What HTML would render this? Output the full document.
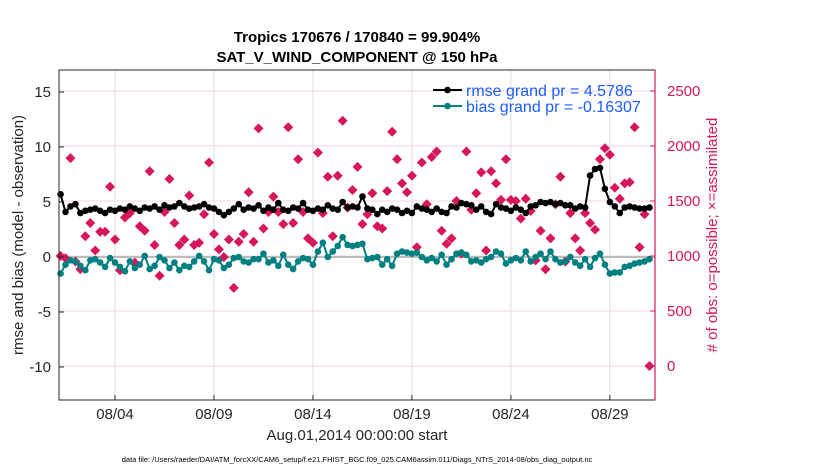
<!DOCTYPE html>
<html><head><meta charset="utf-8"><style>
body{margin:0;background:#fff;}
svg{font-family:"Liberation Sans",sans-serif;}
</style></head><body>
<svg id="chart" width="830" height="470" xmlns="http://www.w3.org/2000/svg"></svg>
<script>
const rmse=[5.7,4.1,4.6,4.8, 4.0,4.2,4.3,4.4, 4.2,4.0,4.3,4.2, 4.4,4.3,4.6,4.4, 4.2,4.5,4.4,4.6, 4.3,4.7,4.5,4.6, 4.9,4.6,4.4,4.5, 4.6,4.8,4.5,4.4, 4.1,3.8,4.1,4.4, 4.8,4.3,4.5,4.4, 4.7,4.2,4.5,4.3, 4.9,4.3,4.2,4.5, 4.4,4.9,4.3,4.2, 4.4,4.3,4.7,4.4, 4.3,5.0,4.5,4.6, 4.5,5.5,4.4,4.3, 3.9,4.3,4.1,4.4, 4.3,4.0,4.2,4.0, 4.6,4.4,4.3,4.1, 4.4,4.1,4.0,4.6, 4.5,4.9,4.8,4.7, 4.3,4.6,4.1,3.9, 4.8,4.5,4.4,4.2, 4.5,4.3,4.0,4.6, 4.7,5.0,4.9,5.0, 4.8,4.9,4.7,4.7, 4.4,4.6,4.5,7.4, 8.0,8.1,6.2,5.0, 4.6,4.0,4.5,4.6, 4.5,4.4,4.4,4.5];
const bias=[-1.5,-0.7,-0.3,-0.4, -0.8,-1.2,-0.3,-0.2, -0.5,-0.9,-0.1,-0.5, -0.9,-1.3,-0.4,-1.0, -0.7,0.1,-1.1,-0.8, 0.0,-0.3,-1.0,-0.5, -1.2,-0.8,-0.9,-0.4, 0.1,-0.4,-1.2,-0.2, -0.3,-1.0,-0.7,-0.1, 0.0,-0.4,-0.5,-0.2, -0.2,0.3,-0.5,-0.3, -0.8,0.2,-0.7,-1.1, -0.4,-0.1,-0.2,-0.7, 0.5,1.3,0.0,0.5, 1.0,1.8,1.1,1.0, 1.1,1.2,-0.2,-0.1, 0.0,-0.7,-0.2,-0.8, 0.3,0.5,0.4,0.3, 0.4,0.0,-0.3,-0.1, -0.4,0.2,-0.7,-0.2, 0.3,0.4,0.2,-0.4, -0.3,-0.5,-0.2,0.0, 0.5,0.3,-0.6,-0.3, -0.1,-0.3,0.5,-0.4, 0.0,0.3,-0.2,0.5, -0.2,-0.5,-0.4,0.0, -0.5,-0.8,-0.2,-0.9, -0.1,0.3,-0.7,-1.5, -1.4,-1.4,-0.9,-0.8, -0.6,-0.5,-0.4,-0.2];
const obs=[1000,980,1890,950, 880,1180,1300,1050, 1220,1220,1630,1150, 870,1350,1390,940, 1270,1230,1770,1100, 820,1400,1700,1300, 1100,1150,1550,1100, 1120,1380,1850,1200, 1060,990,1150,710, 1130,1200,1580,1130, 2160,1250,1400,1540, 1400,1290,2170,1300, 1880,1400,1160,1120, 1940,1390,1720,1180, 1730,2230,1440,1600, 1810,1290,1380,1570, 1270,1250,1590,2130, 1880,1660,1580,1730, 1080,1850,1470,1900, 1950,1230,1110,1160, 1500,1020,1950,1420, 1570,1760,1050,1770, 1660,1510,1880,1510, 1500,1340,1520,1410, 960,1230,880,1160, 1470,1720,950,1390, 1160,1050,1390,1300, 1240,1880,1980,1920, 1620,1520,1660,1670, 2170,1080,1380,0];
const xTickLabels=["08/04","08/09","08/14","08/19","08/24","08/29"];
const xTickDays=[4,9,14,19,24,29];
const yLeftTicks=[-10,-5,0,5,10,15];
const yRightTicks=[0,500,1000,1500,2000,2500];

const NS="http://www.w3.org/2000/svg";
const svg=document.getElementById('chart');
const L=59,R=655,T=70,B=400;
const xS=t=>L+(t-1.17)/(31.28-1.17)*(R-L);
const yL=v=>B-(v+13)/30*(B-T);
const yR=n=>B-(n+309)/3000*(B-T);
const tOf=i=>1.25+0.25*i;
function mk(tag,attrs,parent){const e=document.createElementNS(NS,tag);for(const k in attrs)e.setAttribute(k,attrs[k]);(parent||svg).appendChild(e);return e;}
function txt(s,attrs,parent){const e=mk('text',attrs,parent);e.textContent=s;return e;}

const grid=mk('g',{});


xTickDays.forEach(d=>{const l=mk('line',{x1:xS(d),x2:xS(d),y1:T,y2:B,stroke:'#dcdcdc','stroke-width':1},grid);
});
yRightTicks.forEach(n=>{const l=mk('line',{x1:L,x2:R,y1:yR(n),y2:yR(n),stroke:'#f3d6df','stroke-width':1},grid);
});
const zl=mk('line',{x1:L,x2:R,y1:yL(0),y2:yL(0),stroke:'#bbbbbb','stroke-width':2});


const og=mk('g',{fill:'#d6175c'});

obs.forEach((n,i)=>{const x=xS(tOf(i)),y=yR(n);const p=mk('path',{d:`M${x} ${y-5}L${x+5} ${y}L${x} ${y+5}L${x-5} ${y}Z`},og);
});

function series(arr,color,name){
  const g=mk('g',{});
  
  const pts=arr.map((v,i)=>xS(tOf(i)).toFixed(1)+','+yL(v).toFixed(1)).join(' ');
  const pl=mk('polyline',{points:pts,fill:'none',stroke:color,'stroke-width':2},g);
  
  arr.forEach((v,i)=>{const c=mk('circle',{cx:xS(tOf(i)),cy:yL(v),r:3.3,fill:color},g);
    });
}
series(bias,'#008080','bias-series');
series(rmse,'#000000','rmse-series');

const fr=mk('rect',{x:L,y:T,width:R-L,height:B-T,fill:'none',stroke:'#262626','stroke-width':1});

const ra=mk('line',{x1:R,x2:R,y1:T,y2:B,stroke:'#d6175c','stroke-width':1.2});


yLeftTicks.forEach(v=>{const y=yL(v);mk('line',{x1:L,x2:L+5,y1:y,y2:y,stroke:'#262626'});
 const t=txt(String(v),{x:L-8,y:y+5,'text-anchor':'end','font-size':15,fill:'#262626'});
 });
yRightTicks.forEach(n=>{const y=yR(n);mk('line',{x1:R-5,x2:R,y1:y,y2:y,stroke:'#d6175c'});
 const t=txt(String(n),{x:R+12,y:y+5,'font-size':15,fill:'#d6175c'});
 });
xTickDays.forEach((d,i)=>{const x=xS(d);mk('line',{x1:x,x2:x,y1:B,y2:B-5,stroke:'#262626'});
 const t=txt(xTickLabels[i],{x:x,y:B+19,'text-anchor':'middle','font-size':15,fill:'#262626'});
 });

let e;
e=txt('Tropics 170676 / 170840 = 99.904%',{x:357,y:42,'text-anchor':'middle','font-size':15,'font-weight':'bold',fill:'#000'});

e=txt('SAT_V_WIND_COMPONENT @ 150 hPa',{x:357,y:62,'text-anchor':'middle','font-size':15,'font-weight':'bold',fill:'#000'});

e=txt('Aug.01,2014 00:00:00 start',{x:357,y:440,'text-anchor':'middle','font-size':15,fill:'#262626'});

e=txt('rmse and bias (model - observation)',{x:0,y:0,'text-anchor':'middle','font-size':15,fill:'#262626',transform:'translate(23,235) rotate(-90)'});

e=txt('# of obs: o=possible; \u00d7=assimilated',{x:0,y:0,'text-anchor':'middle','font-size':15,fill:'#d6175c',transform:'translate(717,235) rotate(-90)'});

e=txt('data file: /Users/raeder/DAI/ATM_forcXX/CAM6_setup/f.e21.FHIST_BGC.f09_025.CAM6assim.011/Diags_NTrS_2014-08/obs_diag_output.nc',{x:357,y:462,'text-anchor':'middle','font-size':7.5,fill:'#000'});


const lg=mk('g',{});

[['rmse grand pr = 4.5786','#000',90],['bias grand pr = -0.16307','#008080',106]].forEach(([s,c,y])=>{
  const it=mk('g',{},lg);
  
  mk('line',{x1:433,x2:462,y1:y,y2:y,stroke:c,'stroke-width':2},it);
  mk('circle',{cx:447.5,cy:y,r:3.3,fill:c},it);
  txt(s,{x:466,y:y+6,'font-size':16,fill:'#1a5cff'},it);
});
</script>
</body></html>
